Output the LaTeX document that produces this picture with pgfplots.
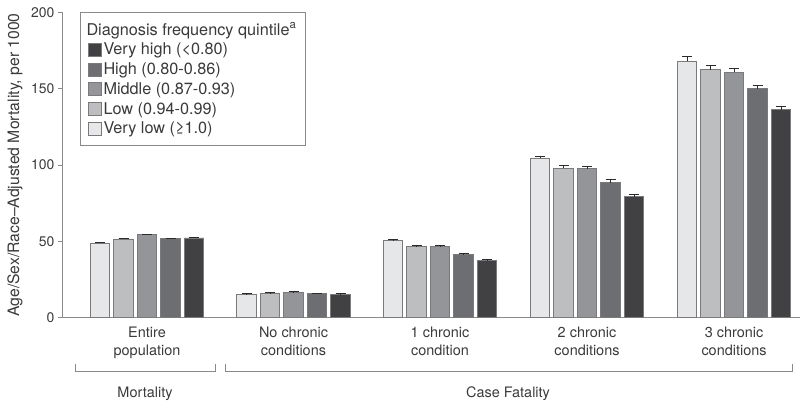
\documentclass[border=0pt]{standalone}
\usepackage{fontspec}
\setmainfont{TeX Gyre Heros}
\usepackage{pgfplots}
\pgfplotsset{compat=1.18}
\definecolor{vlow}{HTML}{E6E7E8}
\definecolor{low}{HTML}{BCBEC0}
\definecolor{mid}{HTML}{939598}
\definecolor{high}{HTML}{6D6E71}
\definecolor{vhigh}{HTML}{414042}
\definecolor{edge}{HTML}{7A7A7C}
\definecolor{axgray}{HTML}{8A8A8A}
\definecolor{txt}{HTML}{3A3A3A}
\definecolor{errc}{HTML}{2A2A2A}
\begin{document}
\begin{tikzpicture}[x=1bp,y=1bp,font=\fontsize{14.5}{18}\selectfont,text=txt]
\path[use as bounding box] (0,0) rectangle (800,407);
\begin{axis}[
  at={(62bp,89.3bp)}, anchor=south west,
  scale only axis, width=738bp, height=305.3bp,
  xmin=62, xmax=800, ymin=0, ymax=200,
  axis x line*=bottom, axis y line*=left,
  axis line style={draw=axgray, line width=0.8bp},
  ytick={0,50,100,150,200},
  xtick={147,293.5,440,587,734},
  xticklabels={{Entire\\population},{No chronic\\conditions},{1 chronic\\condition},{2 chronic\\conditions},{3 chronic\\conditions}},
  xticklabel style={align=center, text=txt, font=\fontsize{14.5}{18}\selectfont, yshift=-1.5bp},
  yticklabel style={text=txt, font=\fontsize{14}{16}\selectfont},
  x tick style={draw=none},
  y tick style={draw=axgray, line width=0.8bp},
  tick align=outside, major tick length=4bp,
  /pgf/number format/assume math mode=true,
  ylabel={Age/Sex/Race–Adjusted Mortality, per 1000},
  ylabel style={at={(axis description cs:-0.0637,0.5)}, anchor=center, text=txt, font=\fontsize{15.8}{17}\selectfont},
  ybar, bar width=19.5,
  error bars/y dir=plus, error bars/y explicit,
  error bars/error bar style={line width=0.8bp, color=errc},
  error bars/error mark options={rotate=90, mark size=5bp, line width=0.8bp, color=errc},
  legend image code/.code={\draw[#1] (0bp,-6.5bp) rectangle (13bp,6.5bp);},
  legend style={at={(axis description cs:0.0244,1.0)}, anchor=north west,
    draw=axgray, line width=0.8bp, fill=white, font=\fontsize{16.3}{18}\selectfont,
    row sep=2.4bp, inner xsep=7.5bp, inner ysep=8bp,
    /tikz/every even column/.append style={column sep=1bp}},
  legend cell align=left,
]
\addlegendimage{empty legend}
\addlegendentry{\hspace*{-17bp}Diagnosis frequency quintile\textsuperscript{a}}
\addplot[fill=vhigh, draw=edge, line width=0.6bp, bar shift=47] coordinates {
  (147,52.3) +- (0,0.4) (293.5,15.3) +- (0,0.3) (440,37.4) +- (0,0.5) (587,79.3) +- (0,1.3) (734,136.2) +- (0,2.4)};
\addlegendentry{Very high (<0.80)}
\addplot[fill=high, draw=edge, line width=0.6bp, bar shift=23.5] coordinates {
  (147,51.8) +- (0,0.4) (293.5,15.7) +- (0,0.3) (440,41.3) +- (0,0.6) (587,88.5) +- (0,1.8) (734,150.0) +- (0,2.2)};
\addlegendentry{High (0.80-0.86)}
\addplot[fill=mid, draw=edge, line width=0.6bp, bar shift=0] coordinates {
  (147,54.4) +- (0,0.4) (293.5,16.8) +- (0,0.3) (440,46.5) +- (0,0.6) (587,97.7) +- (0,1.3) (734,160.9) +- (0,2.4)};
\addlegendentry{Middle (0.87-0.93)}
\addplot[fill=low, draw=edge, line width=0.6bp, bar shift=-23.5] coordinates {
  (147,51.6) +- (0,0.4) (293.5,16.2) +- (0,0.3) (440,46.5) +- (0,0.6) (587,97.9) +- (0,1.8) (734,162.4) +- (0,2.8)};
\addlegendentry{Low (0.94-0.99)}
\addplot[fill=vlow, draw=edge, line width=0.6bp, bar shift=-47] coordinates {
  (147,49.0) +- (0,0.4) (293.5,15.5) +- (0,0.3) (440,50.5) +- (0,1.0) (587,104.7) +- (0,1.2) (734,167.9) +- (0,3.4)};
\addlegendentry{Very low (≥1.0)}
\end{axis}
\draw[axgray, line width=0.8bp] (75,43) -- (75,36) -- (215,36) -- (215,43);
\draw[axgray, line width=0.8bp] (225,43) -- (225,36) -- (792,36) -- (792,43);
\node at (145,13) {Mortality};
\node at (508,13) {Case Fatality};
\end{tikzpicture}
\end{document}
